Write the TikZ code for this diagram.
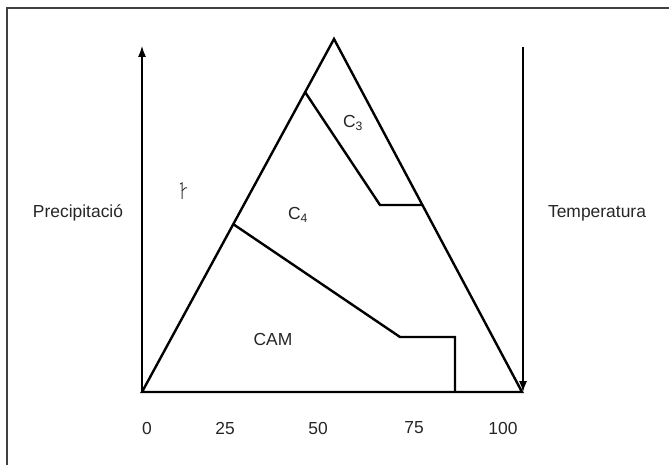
\documentclass[tikz,border=0pt]{standalone}
\usepackage{fontspec}
\setmainfont{Liberation Sans}
\usetikzlibrary{arrows.meta}
\begin{document}
\begin{tikzpicture}[x=1bp,y=-1bp]
    \tikzset{
    zone/.style={line width=2.4bp, line join=miter},
    axis/.style={line width=1.2bp, -{Latex[length=11bp,width=8bp]}},
    lbl/.style={font=\fontsize{17.5}{20}\selectfont, inner sep=0pt, text=black!85}
    }
    \useasboundingbox (0,0) rectangle (669,465);
    \draw[line width=1.5bp, black!75] (669,8) -- (7,8) -- (7,465);

        % triangle corners
        \coordinate (left) at (142,392);
        \coordinate (top) at (334,39);
        \coordinate (right) at (522,392);
        \coordinate (end) at (523,392);

        % axes
        \coordinate (ptop) at (142,46);
        \coordinate (ttop) at (523,47);
        \draw[axis] (left) -- (ptop);
        \draw[axis] (ttop) -- (end);

        \draw[zone] (left) -- (top) -- (right) -- cycle;
        \draw[zone] (right) -- (end);

        % C3 boundary
        \coordinate (c3a) at (305,92);
        \coordinate (c3b) at (380,205);
        \coordinate (c3c) at (422,205);
        \draw[zone] (c3a) -- (c3b) -- (c3c);

        % CAM boundary
        \coordinate (cama) at (233,224);
        \coordinate (camb) at (400,337);
        \coordinate (camc) at (455,337);
        \coordinate (camd) at (455,392);
        \draw[zone] (cama) -- (camb) -- (camc) -- (camd);

        \node (c3)[lbl] at (353,123) {C\textsubscript{3}};
        \node (c4)[lbl] at (298,215) {C\textsubscript{4}};
        \node (cam)[lbl] at (273,339) {CAM};
        \node (prec)[lbl] at (78,213) {Precipitació};
        \node (temp)[lbl] at (597,213) {Temperatura};

        \foreach \x/\t in {147/0, 225/25, 318/50, 414/75, 503/100}
            \node (n\t)[lbl] at (\x,428) {\t};

        % stray mark
        \draw[line width=1bp, black!80] (180,184) -- (182,183) -- (182,199);
        \draw[line width=1bp, black!80] (182,191) -- (185,188) -- (187,188);
    \end{tikzpicture}
\end{document}
